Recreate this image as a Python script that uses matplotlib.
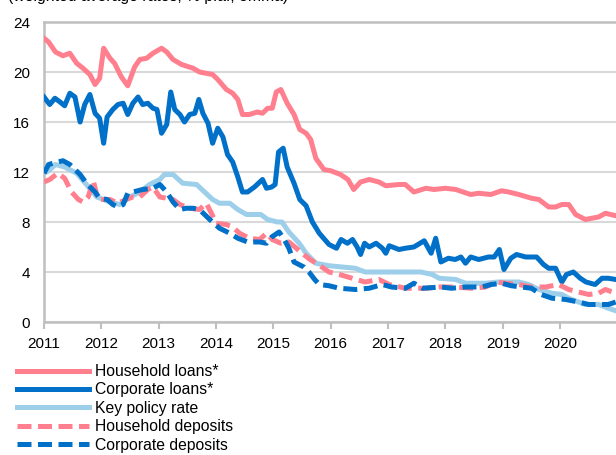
import matplotlib
matplotlib.use("Agg")
import matplotlib.pyplot as plt
import numpy as np

plt.rcParams['font.family'] = ['Liberation Sans', 'DejaVu Sans']

# values, % p.a. (x in decimal years)
hh_loans_t = [2011.00, 2011.08, 2011.20, 2011.33, 2011.45, 2011.57, 2011.68, 2011.80, 2011.89, 2011.97,
              2012.04, 2012.15, 2012.23, 2012.35, 2012.46, 2012.58, 2012.67, 2012.79, 2012.90,
              2013.05, 2013.14, 2013.25, 2013.40, 2013.60, 2013.71, 2013.94,
              2014.03, 2014.18, 2014.29, 2014.38, 2014.46, 2014.58, 2014.72, 2014.81, 2014.90, 2014.98,
              2015.05, 2015.13, 2015.24, 2015.36, 2015.46, 2015.57, 2015.65, 2015.74, 2015.88,
              2016.00, 2016.17, 2016.30, 2016.40, 2016.52, 2016.67, 2016.84, 2016.96,
              2017.19, 2017.30, 2017.45, 2017.66, 2017.80, 2018.00, 2018.18, 2018.44, 2018.58, 2018.79, 2018.98,
              2019.10, 2019.28, 2019.50, 2019.63, 2019.80, 2019.92,
              2020.03, 2020.15, 2020.27, 2020.44, 2020.55, 2020.67, 2020.79, 2020.97]
hh_loans = [22.7, 22.4, 21.6, 21.3, 21.5, 20.7, 20.3, 19.8, 19.0, 19.5,
            21.9, 21.1, 20.7, 19.6, 18.9, 20.4, 21.0, 21.1, 21.5,
            21.9, 21.6, 21.0, 20.6, 20.3, 20.0, 19.8,
            19.4, 18.6, 18.3, 17.8, 16.6, 16.6, 16.8, 16.7, 17.1, 17.1,
            18.4, 18.6, 17.5, 16.6, 15.4, 15.1, 14.6, 13.1, 12.2,
            12.1, 11.8, 11.4, 10.6, 11.2, 11.4, 11.2, 10.9,
            11.0, 11.0, 10.4, 10.7, 10.6, 10.7, 10.6, 10.2, 10.3, 10.2, 10.5,
            10.4, 10.2, 9.9, 9.8, 9.2, 9.2,
            9.4, 9.4, 8.6, 8.2, 8.3, 8.4, 8.7, 8.5]

corp_loans_t = [2011.00, 2011.10, 2011.19, 2011.28, 2011.36, 2011.45, 2011.54, 2011.63, 2011.71, 2011.80, 2011.89, 2011.97,
                2012.04, 2012.10, 2012.20, 2012.29, 2012.38, 2012.46, 2012.55, 2012.64, 2012.72, 2012.81, 2012.90, 2012.97,
                2013.05, 2013.14, 2013.21, 2013.28, 2013.37, 2013.45, 2013.54, 2013.63, 2013.70, 2013.77, 2013.86, 2013.94,
                2014.03, 2014.12, 2014.20, 2014.29, 2014.38, 2014.46, 2014.55, 2014.67, 2014.81, 2014.88, 2014.97,
                2015.03, 2015.09, 2015.17, 2015.24, 2015.36, 2015.46, 2015.57, 2015.68, 2015.80, 2015.97,
                2016.10, 2016.18, 2016.29, 2016.38, 2016.46, 2016.52, 2016.59, 2016.67, 2016.79, 2016.90, 2016.96,
                2017.02, 2017.19, 2017.30, 2017.45, 2017.63, 2017.75, 2017.83, 2017.92,
                2018.05, 2018.17, 2018.27, 2018.35, 2018.44, 2018.58, 2018.75, 2018.85, 2018.94,
                2019.02, 2019.14, 2019.24, 2019.40, 2019.59, 2019.71, 2019.80, 2019.92,
                2020.03, 2020.11, 2020.23, 2020.35, 2020.45, 2020.61, 2020.73, 2020.84, 2020.97]
corp_loans = [18.0, 17.4, 17.9, 17.6, 17.3, 18.3, 18.0, 16.0, 17.4, 18.2, 16.7, 16.3,
              14.3, 16.4, 17.0, 17.4, 17.5, 16.6, 17.5, 18.0, 17.4, 17.5, 17.1, 17.0,
              15.1, 15.8, 18.4, 17.0, 16.6, 16.0, 16.6, 16.7, 17.8, 16.7, 15.9, 14.3,
              15.5, 14.8, 13.4, 12.8, 11.6, 10.4, 10.4, 10.8, 11.4, 10.7, 10.8,
              11.0, 13.6, 13.9, 12.4, 11.1, 9.8, 9.3, 8.0, 7.1, 6.2,
              5.9, 6.6, 6.3, 6.6, 6.0, 5.4, 6.3, 6.0, 6.3, 5.9, 5.5,
              6.1, 5.8, 5.9, 6.0, 6.5, 5.5, 6.7, 4.8,
              5.1, 5.0, 5.2, 4.7, 5.2, 5.0, 5.2, 5.2, 5.8,
              4.2, 5.1, 5.4, 5.2, 5.2, 4.6, 4.3, 4.3,
              3.2, 3.8, 4.0, 3.5, 3.2, 3.0, 3.5, 3.5, 3.4]

key_rate_t = [2011.00, 2011.08, 2011.20, 2011.36, 2011.57, 2011.74, 2011.92,
              2012.15, 2012.32, 2012.50, 2012.67, 2012.84,
              2013.02, 2013.10, 2013.25, 2013.42, 2013.66, 2013.80, 2013.94,
              2014.06, 2014.24, 2014.38, 2014.53, 2014.78, 2014.90,
              2015.07, 2015.15, 2015.27, 2015.45, 2015.57, 2015.74, 2015.97,
              2016.20, 2016.43, 2016.60, 2017.57, 2017.77, 2017.89,
              2018.18, 2018.35, 2018.70, 2018.92, 2019.28, 2019.45, 2019.63, 2019.86,
              2020.03, 2020.15, 2020.32, 2020.44, 2020.67, 2020.84, 2020.97]
key_rate = [11.9, 12.1, 12.6, 12.4, 11.9, 11.0, 10.0,
            9.6, 9.4, 10.0, 10.4, 11.0,
            11.4, 11.8, 11.8, 11.1, 11.0, 10.4, 9.8,
            9.5, 9.5, 9.0, 8.6, 8.6, 8.2,
            8.0, 8.0, 7.2, 6.3, 5.5, 4.7, 4.5,
            4.4, 4.3, 4.0, 4.0, 3.8, 3.5,
            3.4, 3.1, 3.1, 3.2, 3.2, 3.0, 2.6, 2.3,
            2.2, 1.9, 1.6, 1.4, 1.4, 1.1, 0.9]

hh_dep_t = [2011.00, 2011.10, 2011.24, 2011.36, 2011.48, 2011.60, 2011.68, 2011.77, 2011.86, 2011.94,
            2012.03, 2012.15, 2012.29, 2012.43, 2012.55, 2012.67, 2012.81, 2012.90,
            2013.02, 2013.14, 2013.25, 2013.37, 2013.54, 2013.71, 2013.83, 2013.92,
            2014.00, 2014.18, 2014.29, 2014.41, 2014.58, 2014.76, 2014.88, 2014.98,
            2015.13, 2015.27, 2015.40, 2015.50, 2015.64, 2015.78, 2015.97,
            2016.15, 2016.30, 2016.60, 2016.84, 2017.02, 2017.30, 2017.66, 2017.89,
            2018.15, 2018.46, 2018.70, 2018.88, 2019.05, 2019.28, 2019.50, 2019.75, 2019.97,
            2020.15, 2020.32, 2020.50, 2020.67, 2020.79, 2020.97]
hh_dep = [11.2, 11.4, 11.9, 11.5, 10.4, 9.8, 9.6, 10.0, 11.3, 9.8,
          9.8, 9.8, 9.5, 9.8, 10.0, 10.0, 10.6, 10.8,
          10.0, 9.9, 9.8, 9.4, 9.1, 9.0, 9.5, 8.7,
          7.9, 7.8, 7.6, 7.1, 6.7, 6.6, 7.1, 6.6,
          6.3, 6.4, 5.9, 5.5, 5.0, 4.6, 4.0,
          3.8, 3.6, 3.2, 3.4, 3.0, 2.7, 2.7, 2.8,
          2.8, 2.7, 2.8, 3.2, 3.1, 3.0, 2.8, 2.8, 3.0,
          2.6, 2.4, 2.2, 2.3, 2.6, 2.3]

corp_dep_t = [2011.00, 2011.08, 2011.16, 2011.33, 2011.45, 2011.63, 2011.74, 2011.89, 2011.97,
              2012.10, 2012.20, 2012.29, 2012.38, 2012.46, 2012.55, 2012.72, 2012.90,
              2013.02, 2013.14, 2013.25, 2013.37, 2013.48, 2013.60, 2013.71, 2013.89,
              2014.06, 2014.24, 2014.38, 2014.55, 2014.76, 2014.88, 2014.97,
              2015.10, 2015.19, 2015.27, 2015.36, 2015.53, 2015.62, 2015.72, 2015.80, 2015.97,
              2016.15, 2016.43, 2016.67, 2016.90, 2017.06, 2017.30, 2017.45, 2017.60, 2017.93,
              2018.10, 2018.35, 2018.63, 2018.80, 2018.98, 2019.15, 2019.32, 2019.50, 2019.67, 2019.86,
              2020.10, 2020.32, 2020.50, 2020.67, 2020.84, 2020.97]
corp_dep = [11.9, 12.6, 12.7, 12.9, 12.6, 11.8, 11.1, 10.4, 9.9,
            9.8, 9.4, 9.2, 9.4, 10.3, 10.4, 10.6, 10.7,
            11.0, 10.4, 9.6, 9.0, 9.1, 9.1, 9.0, 8.2,
            7.5, 7.1, 6.7, 6.4, 6.4, 6.3, 6.8,
            7.2, 6.6, 5.9, 4.8, 4.4, 4.0, 3.4, 3.0, 2.9,
            2.7, 2.6, 2.7, 3.0, 2.8, 2.7, 3.1, 2.7, 2.8,
            2.7, 2.8, 2.8, 3.0, 3.1, 2.9, 2.8, 2.7, 2.2, 1.9,
            1.8, 1.6, 1.4, 1.4, 1.4, 1.6]

years = list(range(2011, 2021))
y_ticks = [0, 4, 8, 12, 16, 20, 24]

pink = '#ff7f8e'
blue = '#0070c8'
light_blue = '#9dcfeb'
grey = '#bfbfbf'

fig = plt.figure(figsize=(6.16, 4.55), dpi=100)
ax = fig.add_axes([44/616, 1 - 322/455, 1 - 44/616, 300/455])

lw = 3.6
dash = (2.8, 1.3)
ax.plot(key_rate_t, key_rate, color=light_blue, lw=lw, zorder=2, label='Key policy rate')
ax.plot(hh_loans_t, hh_loans, color=pink, lw=lw, zorder=3, label='Household loans*')
ax.plot(corp_loans_t, corp_loans, color=blue, lw=lw, zorder=3, label='Corporate loans*')
ax.plot(hh_dep_t, hh_dep, color=pink, lw=lw, ls=(0, dash), zorder=3, label='Household deposits')
ax.plot(corp_dep_t, corp_dep, color=blue, lw=lw, ls=(0, dash), zorder=4, label='Corporate deposits')

ax.set_xlim(2011, 2020.974)
ax.set_ylim(0, 24)
ax.set_xticks(years)
ax.set_xticklabels([str(y) for y in years])
ax.set_yticks(y_ticks)
ax.yaxis.grid(True, color='#d9d9d9', lw=1.5, zorder=0)
ax.set_axisbelow(True)

for s in ['left', 'bottom', 'top']:
    ax.spines[s].set_color(grey)
    ax.spines[s].set_linewidth(1.8)
ax.spines['right'].set_visible(False)
ax.tick_params(axis='x', direction='out', length=5, width=1.5, color=grey,
               labelsize=11, pad=6)
ax.tick_params(axis='y', length=0, labelsize=11, pad=10)

handles, labels = ax.get_legend_handles_labels()
order = [1, 2, 0, 3, 4]
leg = fig.legend([handles[i] for i in order], [labels[i] for i in order],
                 loc='upper left', bbox_to_anchor=(17/616, 1 - 364/455),
                 frameon=False, fontsize=11.3, handlelength=4.6,
                 handletextpad=0.35, labelspacing=0.22, borderpad=0, borderaxespad=0)

# header line, cut off by the top edge as in the source
fig.text(8/616, 1 - 1/455, '(weighted average rates, % p.a., 3mma)', fontsize=11.3,
         va='baseline', ha='left')

fig.savefig('out.png', dpi=100)
